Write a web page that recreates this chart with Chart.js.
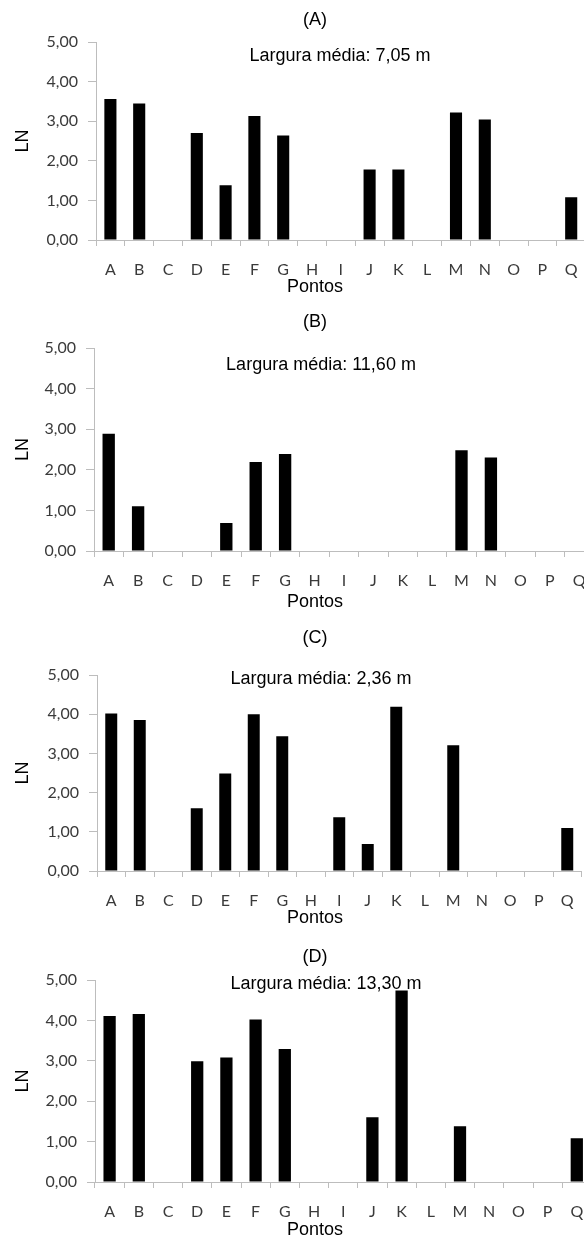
<!DOCTYPE html>
<html>
<head>
<meta charset="utf-8">
<script src="https://cdn.jsdelivr.net/npm/chart.js@4.4.1/dist/chart.umd.min.js"></script>
<style>
html,body{margin:0;padding:0;background:#fff;}
body{width:584px;height:1237px;overflow:hidden;position:relative;}
canvas{position:absolute;left:0;}
</style>
</head>
<body>
<canvas id="cA"></canvas>
<canvas id="cB"></canvas>
<canvas id="cC"></canvas>
<canvas id="cD"></canvas>
<script>
// ---- data ----
const categories = ['A','B','C','D','E','F','G','H','I','J','K','L','M','N','O','P','Q'];
const valuesA = [3.56,3.45,0,2.70,1.38,3.13,2.64,0,0,1.78,1.78,0,3.22,3.04,0,0,1.08];
const valuesB = [2.89,1.10,0,0,0.69,2.19,2.39,0,0,0,0,0,2.48,2.30,0,0,0];
const valuesC = [4.02,3.85,0,1.60,2.49,4.00,3.44,0,1.37,0.69,4.19,0,3.21,0,0,0,1.10];
const valuesD = [4.11,4.16,0,2.99,3.08,4.02,3.29,0,0,1.60,4.74,0,1.38,0,0,0,1.08];
const panelTitles = ['(A)','(B)','(C)','(D)'];
const widthNotes = ['Largura média: 7,05 m','Largura média: 11,60 m','Largura média: 2,36 m','Largura média: 13,30 m'];
const yTickLabels = ['0,00','1,00','2,00','3,00','4,00','5,00'];
const xAxisTitle = 'Pontos';
const yAxisTitle = 'LN';
const seriesList = [valuesA, valuesB, valuesC, valuesD];

// ---- layout (page pixels) ----
const CANVAS_W = 600;
const layouts = [
  {id:'cA', top:0,   height:300, plotTop:42,  plotBottom:240,  plotLeft:96, catW:28.8, titleY:20,  noteX:340, noteY:56,  axisTitleY:287},
  {id:'cB', top:300, height:315, plotTop:348, plotBottom:551,  plotLeft:94, catW:29.4, titleY:322, noteX:321, noteY:365, axisTitleY:602},
  {id:'cC', top:615, height:315, plotTop:675, plotBottom:871,  plotLeft:97, catW:28.5, titleY:638, noteX:321, noteY:679, axisTitleY:918},
  {id:'cD', top:930, height:307, plotTop:980, plotBottom:1182, plotLeft:95, catW:29.2, titleY:957, noteX:326, noteY:984, axisTitleY:1230}
];
const TITLE_X = 315;
const AXIS_COLOR = '#bdbdbd';
const TICK_COLOR = '#3a3a3a';
const ARIAL = '"Liberation Sans", Arial, sans-serif';
const CALIBRI = 'Lato, "Open Sans", sans-serif';

const panelText = {
  id: 'panelText',
  afterDatasetsDraw(chart, args, o) {
    const ctx = chart.ctx;
    ctx.save();
    ctx.fillStyle = '#000';
    ctx.font = '18px ' + ARIAL;
    ctx.textAlign = 'center';
    ctx.textBaseline = 'middle';
    ctx.fillText(o.title, o.titleX, o.titleY);
    ctx.fillText(o.note, o.noteX, o.noteY);
    ctx.fillText(o.axisTitle, o.titleX, o.axisTitleY);
    ctx.restore();
  }
};

layouts.forEach((L, i) => {
  const cv = document.getElementById(L.id);
  cv.width = CANVAS_W; cv.height = L.height;
  cv.style.width = CANVAS_W + 'px'; cv.style.height = L.height + 'px';
  cv.style.top = L.top + 'px';
  const plotRight = L.plotLeft + categories.length * L.catW;
  new Chart(cv, {
    type: 'bar',
    data: {
      labels: categories,
      datasets: [{
        data: seriesList[i],
        backgroundColor: '#000',
        borderWidth: 0,
        barPercentage: 0.42,
        categoryPercentage: 1.0
      }]
    },
    options: {
      responsive: false,
      animation: false,
      devicePixelRatio: 1,
      layout: {padding: {top: L.plotTop - L.top, right: CANVAS_W - plotRight, left: 0, bottom: 0}},
      plugins: {
        legend: {display: false},
        tooltip: {enabled: false},
        panelText: {
          title: panelTitles[i], titleX: TITLE_X, titleY: L.titleY - L.top,
          note: widthNotes[i], noteX: L.noteX, noteY: L.noteY - L.top,
          axisTitle: xAxisTitle, axisTitleY: L.axisTitleY - L.top
        }
      },
      scales: {
        x: {
          type: 'category',
          offset: true,
          grid: {offset: true, drawOnChartArea: false, drawTicks: true, tickLength: 6, color: AXIS_COLOR, lineWidth: 1},
          border: {display: true, color: AXIS_COLOR, width: 1},
          ticks: {padding: 14, color: TICK_COLOR, font: {family: CALIBRI, size: 16}, autoSkip: false, maxRotation: 0},
          afterFit(s) { s.height = L.top + L.height - L.plotBottom; }
        },
        y: {
          min: 0, max: 5,
          grid: {drawOnChartArea: false, drawTicks: true, tickLength: 8, color: AXIS_COLOR, lineWidth: 1},
          border: {display: true, color: AXIS_COLOR, width: 1},
          ticks: {
            stepSize: 1, padding: 10, color: TICK_COLOR,
            font: {family: CALIBRI, size: 16},
            callback: (v) => yTickLabels[Math.round(v)]
          },
          title: {display: true, text: yAxisTitle, color: '#000', font: {family: ARIAL, size: 18}, padding: {top: 12, bottom: 0}},
          afterFit(s) { s.width = L.plotLeft; }
        }
      }
    },
    plugins: [panelText]
  });
});
</script>
</body>
</html>
